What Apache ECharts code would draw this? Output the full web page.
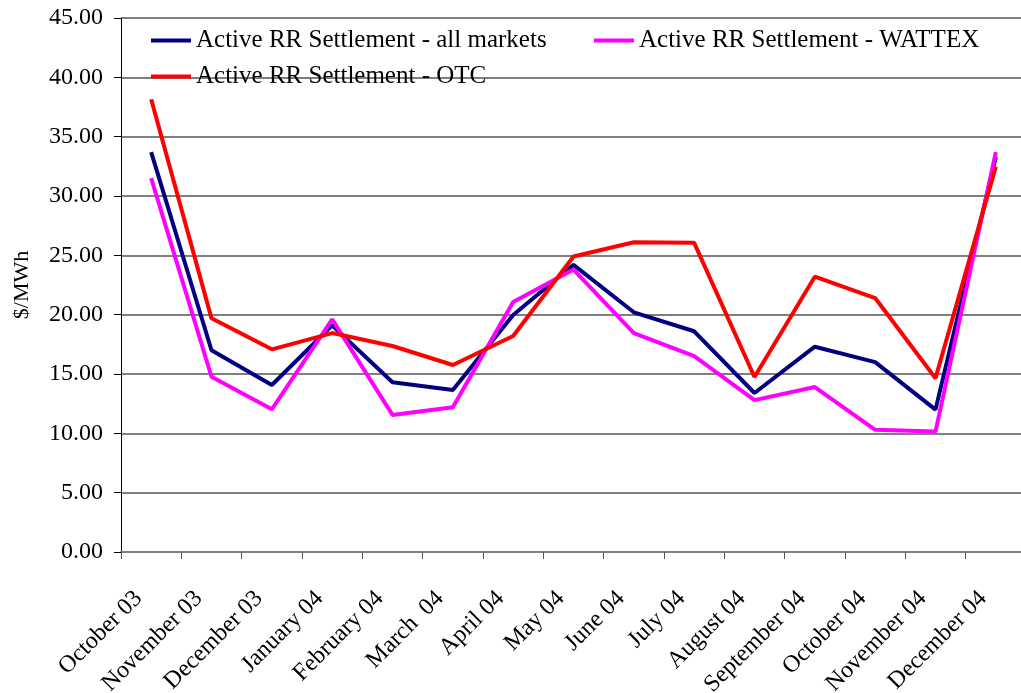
<!DOCTYPE html>
<html>
<head>
<meta charset="utf-8">
<script src="https://cdn.jsdelivr.net/npm/echarts@6/dist/echarts.min.js"></script>
<style>
html,body{margin:0;padding:0;background:#fff;}
#chart{width:1021px;height:693px;}
</style>
</head>
<body>
<div id="chart"></div>
<script>
var months = ['October 03','November 03','December 03','January 04','February 04','March  04','April 04','May 04','June 04','July 04','August 04','September 04','October 04','November 04','December 04'];
var allMarkets = [33.7,17.0,14.07,19.1,14.3,13.65,19.97,24.2,20.2,18.6,13.4,17.3,16.0,12.0,33.3];
var wattex = [31.5,14.77,12.02,19.6,11.55,12.2,21.07,23.8,18.45,16.5,12.8,13.9,10.3,10.15,33.7];
var otc = [38.15,19.69,17.08,18.45,17.36,15.76,18.2,24.9,26.1,26.05,14.75,23.2,21.4,14.64,32.47];

var nameAll='Active RR Settlement - all markets';
var nameW='Active RR Settlement - WATTEX';
var nameO='Active RR Settlement - OTC';

var font='"Liberation Serif","Times New Roman",serif';
var chart=echarts.init(document.getElementById('chart'));

function lg(name,left,top){
	return {
		data:[name],left:left,top:top,padding:0,
		icon:'rect',itemWidth:40,itemHeight:4,itemGap:0,
		textStyle:{fontFamily:font,fontSize:25,color:'#000'},
		selectedMode:false
	};
}

var opt={
	animation:false,
	textStyle:{fontFamily:font},
	legend:[lg(nameAll,151,28),lg(nameW,594,28),lg(nameO,151,64)],
	grid:{left:121,right:-5,top:18,bottom:141,containLabel:false,outerBoundsMode:'none'},
	xAxis:{
		type:'category',
		data:months,
		boundaryGap:true,
		axisLine:{lineStyle:{color:'#7f7f7f',width:2}},
		axisTick:{show:true,length:7,lineStyle:{color:'#555',width:1}},
		axisLabel:{rotate:45,margin:30,padding:[0,18,0,0],fontFamily:font,fontSize:24,color:'#000',interval:0}
	},
	yAxis:{
		type:'value',
		min:0,max:45,interval:5,
		name:'$/MWh',
		nameLocation:'middle',
		nameGap:88,
		nameTextStyle:{fontFamily:font,fontSize:22,color:'#000'},
		axisLine:{show:true,lineStyle:{color:'#000',width:1}},
		axisTick:{show:true,length:7,lineStyle:{color:'#000'}},
		axisLabel:{margin:18,fontFamily:font,fontSize:24,color:'#000',formatter:function(v){return v.toFixed(2);}},
		splitLine:{lineStyle:{color:'#7f7f7f',width:2}}
	},
	series:[
		{name:nameAll,type:'line',data:allMarkets,symbol:'none',lineStyle:{color:'#000080',width:4},itemStyle:{color:'#000080'}},
		{name:nameW,type:'line',data:wattex,symbol:'none',lineStyle:{color:'#ff00ff',width:4},itemStyle:{color:'#ff00ff'}},
		{name:nameO,type:'line',data:otc,symbol:'none',lineStyle:{color:'#ff0000',width:4},itemStyle:{color:'#ff0000'}}
	]
};
chart.setOption(opt);
</script>
</body>
</html>
